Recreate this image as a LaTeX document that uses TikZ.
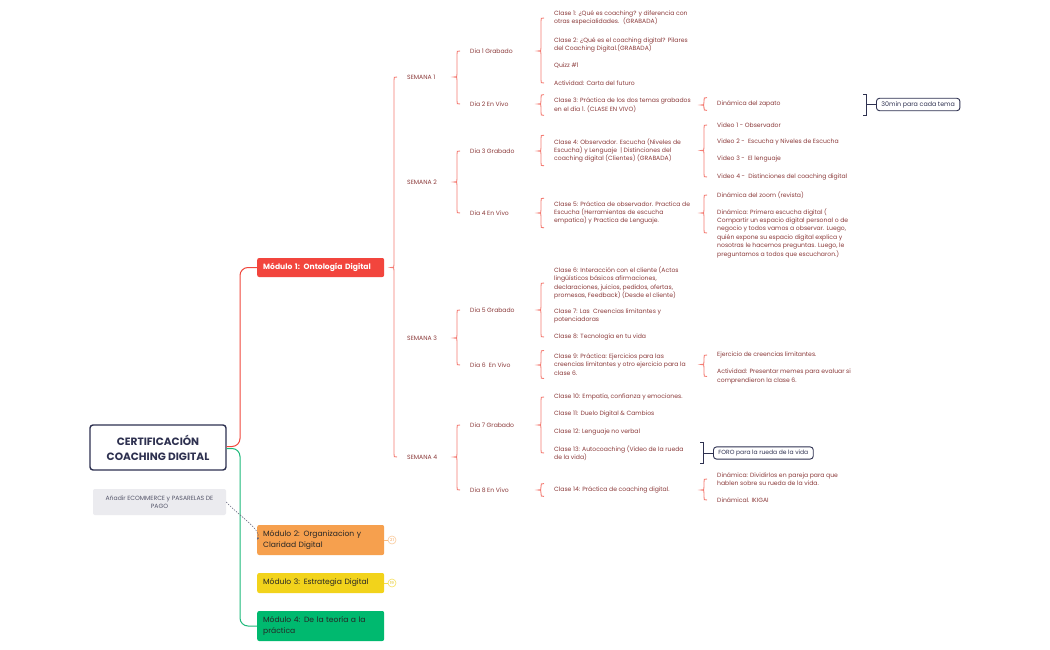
\documentclass[tikz,border=0pt]{standalone}
\usepackage{fontspec}
\setmainfont{Poppins}
\usetikzlibrary{calc,arrows.meta}
\definecolor{txt}{HTML}{8B3A3A}
\definecolor{brc}{HTML}{F47C73}
\definecolor{rootred}{HTML}{F0473C}
\definecolor{grn}{HTML}{1DB97A}
\definecolor{navy}{HTML}{2E3150}
\definecolor{mA}{HTML}{F2453D}
\definecolor{mB}{HTML}{F6A04E}
\definecolor{mC}{HTML}{F2D31B}
\definecolor{mD}{HTML}{00B96F}
\definecolor{notebg}{HTML}{EBEBEF}
\definecolor{notetxt}{HTML}{55566A}
\tikzset{
  leaf/.style={anchor=west, inner xsep=0pt, inner ysep=3pt, align=left, text=txt,
    font=\fontsize{6.1}{8.4}\selectfont},
  modbox/.style={anchor=west, minimum width=127pt, minimum height=#1, rounded corners=2pt,
    align=left, text width=115pt, inner xsep=6pt, inner ysep=2pt, font=\fontsize{7.6}{11}\selectfont},
  bracestyle/.style={draw=brc, line width=0.9pt},
  sumstyle/.style={draw=navy, line width=0.9pt},
  sumbox/.style={draw=navy, line width=0.9pt, rounded corners=3pt, fill=white, text=navy,
    inner xsep=5pt, inner ysep=3pt, font=\fontsize{6.3}{7}\selectfont},
  badge/.style={circle, line width=0.6pt, inner sep=0pt, minimum size=8pt, fill=white,
    font=\fontsize{4}{4}\selectfont},
}
\newcommand\mmbrace[5]{%
  \draw[bracestyle] let \p1=(#1.east), \p2=(#2.#3), \p3=(#4.#5), \p5=($(#2.west)+(-13,0)$) in
  ({\x5+3pt},\y2) .. controls (\x5,\y2) .. (\x5,{\y2-3pt}) -- (\x5,{\y1+3pt})
  .. controls (\x5,\y1) .. ({\x5-3pt},\y1) .. controls (\x5,\y1) .. (\x5,{\y1-3pt})
  -- (\x5,{\y3+3pt}) .. controls (\x5,\y3) .. ({\x5+3pt},\y3);}
\newcommand\mmsum[1]{%
  \draw[sumstyle] let \p1=(#1.west) in
  ({\x1-13pt},{\y1+10.5pt}) -- ({\x1-10pt},{\y1+10.5pt}) -- ({\x1-10pt},{\y1-10.5pt}) -- ({\x1-13pt},{\y1-10.5pt})
  ({\x1-10pt},\y1) -- (#1.west);}
\begin{document}
\begin{tikzpicture}[x=1pt,y=-1pt]
\useasboundingbox (0,0) rectangle (1050,650);
\fill[white] (0,0) rectangle (1050,650);

% root and modules
\node[draw=navy, line width=1.4pt, rounded corners=3pt, fill=white, text=navy, minimum width=136pt,
  minimum height=45pt, align=center, font=\fontsize{10.6}{15}\selectfont\bfseries] (root) at (158,447.5)
  {CERTIFICACIÓN\\COACHING DIGITAL};
\node[modbox=19pt, fill=mA, text=white, font=\fontsize{7.6}{11}\selectfont\bfseries] (mod1) at (257,267.5) {Módulo 1: Ontología Digital};
\node[modbox=30pt, fill=mB, text=black!85] (mod2) at (257,540) {Módulo 2: Organizacion y\\Claridad Digital};
\node[modbox=20pt, fill=mC, text=black!85] (mod3) at (257,583) {Módulo 3: Estrategia Digital};
\node[modbox=30pt, fill=mD, text=black!85] (mod4) at (257,626) {Módulo 4: De la teoría a la\\práctica};
\node[fill=notebg, rounded corners=2pt, minimum width=133pt, minimum height=26pt, align=center,
  text=notetxt, font=\fontsize{6.1}{8.5}\selectfont] (note) at (159.5,502) {Añadir ECOMMERCE y PASARELAS DE\\PAGO};
\node[badge, draw=mB!55, text=mB] (b2) at (392,540) {21};
\node[badge, draw=mC!70, text=mC!90!black] (b3) at (392,583) {19};
\draw[mB!70, line width=0.6pt] (mod2.east) -- (b2.west);
\draw[mC!80, line width=0.6pt] (mod3.east) -- (b3.west);

\draw[rootred, line width=1pt, rounded corners=8pt] ($(root.east)+(0,-1)$) -| ($(mod1.west)+(-17,0)$) -- (mod1.west);
\draw[grn, line width=1pt, rounded corners=8pt] ($(root.east)+(0,1)$) -| ($(mod4.west)+(-17,0)$) -- (mod4.west);
\draw[navy!75, line width=0.5pt, dash pattern=on 1.5pt off 1.2pt, -{Latex[length=2.5pt,width=2pt]}]
  (note.east) .. controls (238,515) and (262,530) .. (mod2.west);

% weeks
\node[leaf] (s1) at (407,77) {SEMANA 1};
\node[leaf] (s2) at (407,182) {SEMANA 2};
\node[leaf] (s3) at (407,338) {SEMANA 3};
\node[leaf] (s4) at (407,457) {SEMANA 4};
% days
\node[leaf] (d1) at (470,51) {Dia 1 Grabado};
\node[leaf] (d2) at (470,104) {Dia 2 En Vivo};
\node[leaf] (d3) at (470,151) {Dia 3 Grabado};
\node[leaf] (d4) at (470,213) {Dia 4 En Vivo};
\node[leaf] (d5) at (470,310) {Dia 5 Grabado};
\node[leaf] (d6) at (470,365) {Dia 6 \ En Vivo};
\node[leaf] (d7) at (470,425) {Dia 7 Grabado};
\node[leaf] (d8) at (470,490) {Dia 8 En Vivo};
% classes
\node[leaf] (c1) at (554,18) {Clase 1: ¿Qué es coaching? y diferencia con\\otras especialidades. \ (GRABADA)};
\node[leaf] (c2) at (554,45) {Clase 2: ¿Qué es el coaching digital? Pilares\\del Coaching Digital.(GRABADA)};
\node[leaf] (q1) at (554,66) {Quizz \#1};
\node[leaf] (ac) at (554,83) {Actividad: Carta del futuro};
\node[leaf] (c3) at (554,105) {Clase 3: Práctica de los dos temas grabados\\en el día 1. (CLASE EN VIVO)};
\node[leaf] (c4) at (554,150.5) {Clase 4: Observador. Escucha (Niveles de\\Escucha) y Lenguaje \ | Distinciones del\\coaching digital (Clientes) (GRABADA)};
\node[leaf] (c5) at (554,213) {Clase 5: Práctica de observador. Practica de\\Escucha (Herramientas de escucha\\empatica) y Practica de Lenguaje.};
\node[leaf] (c6) at (554,283) {Clase 6: Interacción con el cliente (Actos\\lingüísticos básicos afirmaciones,\\declaraciones, juicios, pedidos, ofertas,\\promesas, Feedback) (Desde el cliente)};
\node[leaf] (c7) at (554,316) {Clase 7: Las \ Creencias limitantes y\\potenciadoras};
\node[leaf] (c8) at (554,337) {Clase 8: Tecnología en tu vida};
\node[leaf] (c9) at (554,364.5) {Clase 9: Práctica: Ejercicios para las\\creencias limitantes y otro ejercicio para la\\clase 6.};
\node[leaf] (c10) at (554,397) {Clase 10: Empatía, confianza y emociones.};
\node[leaf] (c11) at (554,414) {Clase 11: Duelo Digital \& Cambios};
\node[leaf] (c12) at (554,432) {Clase 12: Lenguaje no verbal};
\node[leaf] (c13) at (554,453) {Clase 13: Autocoaching (Video de la rueda\\de la vida)};
\node[leaf] (c14) at (554,490) {Clase 14: Práctica de coaching digital.};
% level 5
\node[leaf] (zap) at (717,104) {Dinámica del zapato};
\node[leaf] (v1) at (717,125) {Video 1 - Observador};
\node[leaf] (v2) at (717,142) {Video 2 - \ Escucha y Niveles de Escucha};
\node[leaf] (v3) at (717,159) {Video 3 - \ El lenguaje};
\node[leaf] (v4) at (717,177) {Video 4 - \ Distinciones del coaching digital};
\node[leaf] (dz) at (717,195) {Dinámica del zoom (revista)};
\node[leaf] (de) at (717,233) {Dinámica: Primera escucha digital (\\Compartir un espacio digital personal o de\\negocio y todos vamos a observar. Luego,\\quién expone su espacio digital explica y\\nosotras le hacemos preguntas. Luego, le\\preguntamos a todos que escucharon.)};
\node[leaf] (ej) at (717,355) {Ejercicio de creencias limitantes.};
\node[leaf] (am) at (717,376.5) {Actividad: Presentar memes para evaluar si\\comprendieron la clase 6.};
\node[leaf] (dd) at (717,479) {Dinámica: Dividirlos en pareja para que\\hablen sobre su rueda de la vida.};
\node[leaf] (ik) at (717,500) {Dinámical. IKIGAI};
% summaries
\node[sumbox, anchor=west] (sumA) at (876,104.5) {30min para cada tema};
\node[sumbox, anchor=west, font=\fontsize{6}{7}\selectfont] (sumB) at (713,453) {FORO para la rueda de la vida};

% braces
\mmbrace{mod1}{s1}{center}{s4}{center}
\mmbrace{s1}{d1}{center}{d2}{center}
\mmbrace{s2}{d3}{center}{d4}{center}
\mmbrace{s3}{d5}{center}{d6}{center}
\mmbrace{s4}{d7}{center}{d8}{center}
\mmbrace{d1}{c1}{center}{ac}{center}
\mmbrace{d2}{c3}{north}{c3}{south}
\mmbrace{d3}{c4}{north}{c4}{south}
\mmbrace{d4}{c5}{north}{c5}{south}
\mmbrace{d5}{c6}{center}{c8}{center}
\mmbrace{d6}{c9}{north}{c9}{south}
\mmbrace{d7}{c10}{center}{c13}{center}
\mmbrace{d8}{c14}{north}{c14}{south}
\mmbrace{c3}{zap}{north}{zap}{south}
\mmbrace{c4}{v1}{center}{v4}{center}
\mmbrace{c5}{dz}{center}{de}{center}
\mmbrace{c9}{ej}{center}{am}{center}
\mmbrace{c14}{dd}{center}{ik}{center}
\mmsum{sumA}
\mmsum{sumB}
\end{tikzpicture}
\end{document}
